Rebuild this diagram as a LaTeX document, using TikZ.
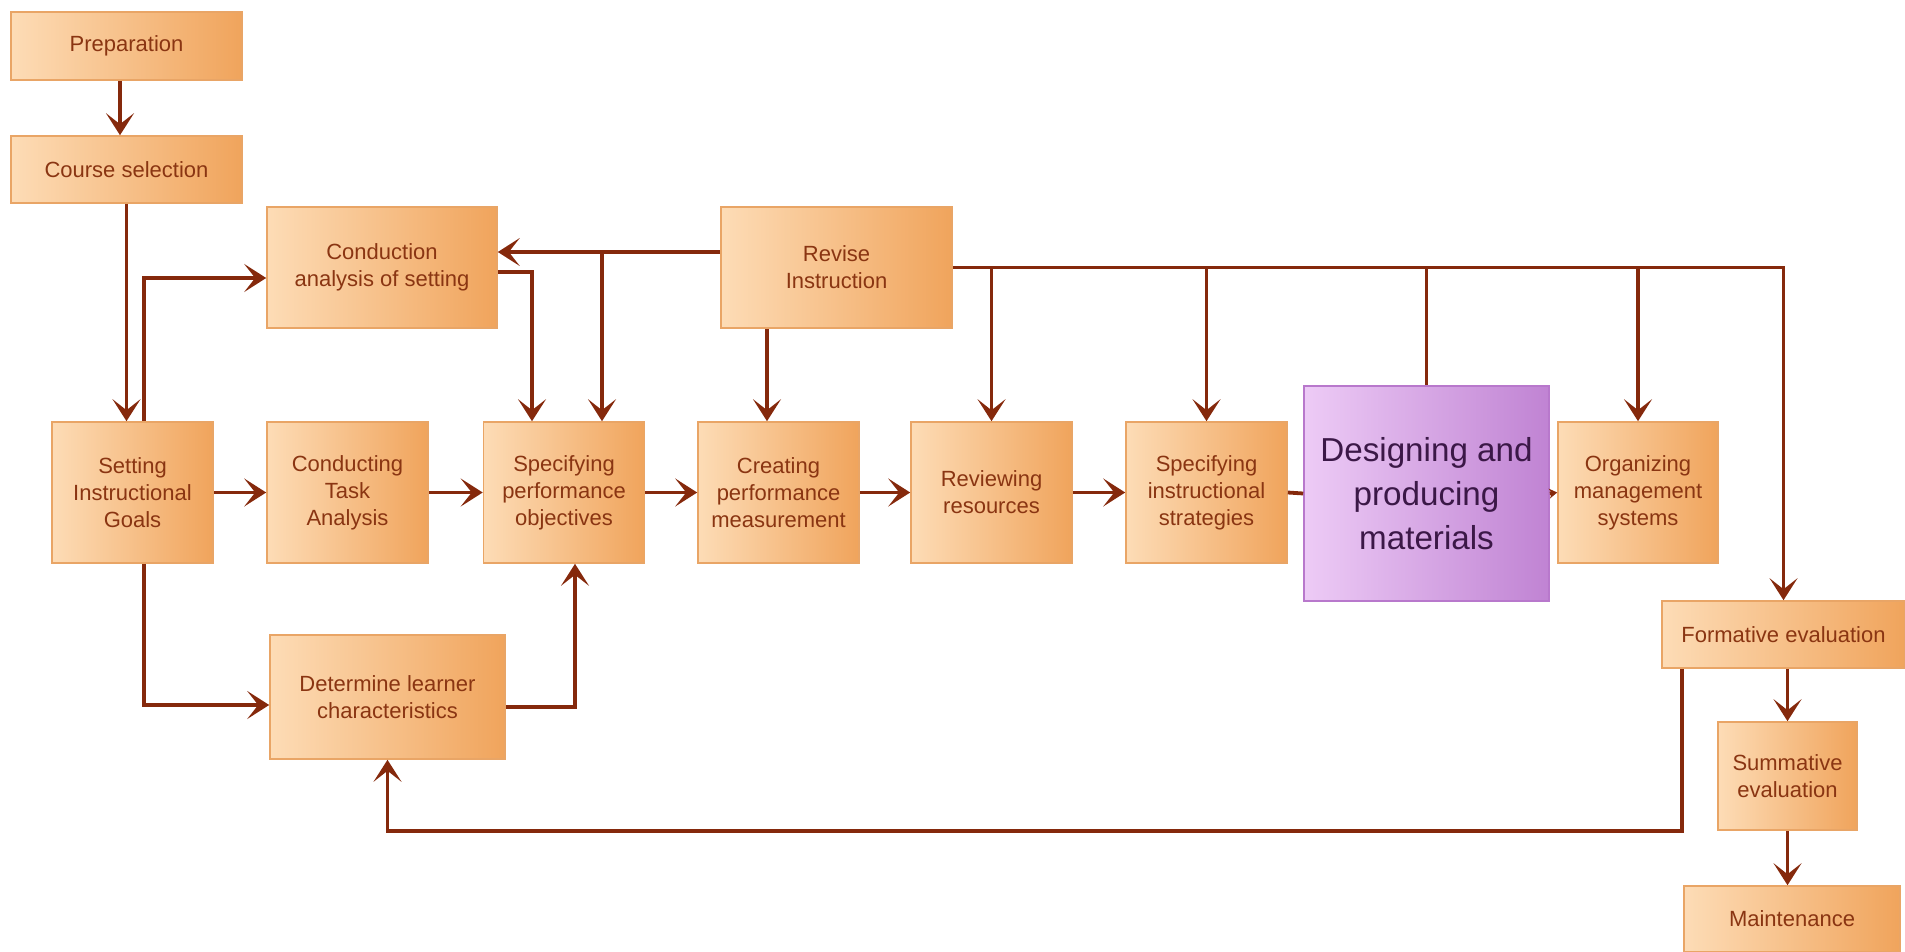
\documentclass[tikz,border=0pt]{standalone}
\usepackage{fontspec}
\setmainfont{Liberation Sans}
\usetikzlibrary{arrows.meta,calc}

\definecolor{wire}{HTML}{85290C}
\definecolor{ink}{HTML}{8A3512}
\definecolor{peachL}{HTML}{FDDCB6}
\definecolor{peachR}{HTML}{F0A45C}
\definecolor{peachEdge}{HTML}{E9A566}
\definecolor{lilacL}{HTML}{EDCBF6}
\definecolor{lilacR}{HTML}{C083D3}
\definecolor{lilacEdge}{HTML}{B878CC}
\definecolor{plum}{HTML}{3B1847}

\tikzset{
  stepbox/.style={draw=peachEdge, line width=0.8pt, left color=peachL, right color=peachR,
    text=ink, align=center, font=\fontsize{11}{13.5}\selectfont, inner sep=2pt},
  rowbox/.style={stepbox, minimum width=80.5pt, minimum height=70.5pt},
  bigbox/.style={draw=lilacEdge, line width=0.8pt, left color=lilacL, right color=lilacR,
    text=plum, align=center, font=\fontsize{16.6}{22}\selectfont},
  wireline/.style={draw=wire, line width=1.9pt},
  wirearrow/.style={wireline, -{Stealth[length=11pt,width=14pt,inset=5.5pt]}},
}

\begin{document}
\begin{tikzpicture}[x=0.5pt,y=-0.5pt]
\useasboundingbox (0,0) rectangle (1905,952);

% planning column
\node[stepbox, minimum width=115.5pt, minimum height=34pt] (prep) at (126.5,46) {Preparation};
\node[stepbox, minimum width=115.5pt, minimum height=33.5pt] (course) at (126.5,169.5) {Course selection};
\node[stepbox, minimum width=115pt, minimum height=60.5pt] (cas) at (382,267.5) {Conduction\\analysis of setting};
\node[stepbox, minimum width=115.5pt, minimum height=60.5pt] (revise) at (836.5,267.5) {Revise\\Instruction};

% main row
\node[rowbox] (goals) at (132.5,492.5) {Setting\\Instructional\\Goals};
\node[rowbox] (task) at (347.5,492.5) {Conducting\\Task\\Analysis};
\node[rowbox] (perf) at (564,492.5) {Specifying\\performance\\objectives};
\node[rowbox] (meas) at (778.5,492.5) {Creating\\performance\\measurement};
\node[rowbox] (res) at (991.5,492.5) {Reviewing\\resources};
\node[rowbox] (strat) at (1206.5,492.5) {Specifying\\instructional\\strategies};
\node[bigbox, minimum width=122.5pt, minimum height=107.5pt] (design) at (1426.5,493.5) {Designing and\\producing\\materials};
\node[rowbox, minimum width=80pt] (org) at (1638,492.5) {Organizing\\management\\systems};

% evaluation column
\node[stepbox, minimum width=121.5pt, minimum height=33.5pt] (form) at (1783.5,634.5) {Formative evaluation};
\node[stepbox, minimum width=69.5pt, minimum height=54pt] (summ) at (1787.5,776) {Summative\\evaluation};
\node[stepbox, minimum width=108pt, minimum height=33pt] (maint) at (1792,919) {Maintenance};

% learners
\node[stepbox, minimum width=117.5pt, minimum height=62pt] (learner) at (387.5,697) {Determine learner\\characteristics};

% helper points on box edges
\coordinate (ps) at ([xshift=-3.25pt]prep.south);
\coordinate (gn) at ([xshift=5.75pt]goals.north);
\coordinate (gs) at ([xshift=5.75pt]goals.south);
\coordinate (rw) at ([yshift=7.75pt]revise.west);
\coordinate (pb) at ([xshift=19pt]perf.north);
\coordinate (pa) at ([xshift=-16pt]perf.north);
\coordinate (ce) at ([yshift=-2.25pt]cas.east);
\coordinate (rs) at ([xshift=-34.75pt]revise.south);
\coordinate (fs) at ([xshift=10.5pt]form.south west);

% left column
\draw[wirearrow] (ps) -- (ps |- course.north);
\draw[wirearrow] (course.south) -- (course.south |- goals.north);
\draw[wirearrow] (gn) |- ([yshift=-5.25pt]cas.west);
\draw[wirearrow] (gs) |- ([yshift=-4pt]learner.west);
\draw[wirearrow] ([yshift=-5pt]learner.east) -| ([xshift=5.5pt]perf.south);
\draw[wirearrow] (ce) -| (pa);

% main row flow
\draw[wirearrow] (goals) -- (task);
\draw[wirearrow] (task) -- (perf);
\draw[wirearrow] (perf) -- (meas);
\draw[wirearrow] (meas) -- (res);
\draw[wirearrow] (res) -- (strat);
\draw[wireline] (strat.east) -- (design.west);
\draw[wireline, -{Stealth[length=4pt,width=5pt]}] (design.east) -- (org.west);

% revision feedback
\draw[wirearrow] (rw) -- (rw -| cas.east);
\draw[wirearrow] (pb |- rw) -- (pb);
\draw[wirearrow] (rs) -- (rs |- meas.north);
\draw[wirearrow] (revise.east) -| (form.north);
\draw[wirearrow] (res.north |- revise.east) -- (res.north);
\draw[wirearrow] (strat.north |- revise.east) -- (strat.north);
\draw[wireline] (design.north |- revise.east) -- (design.north);
\draw[wirearrow] (org.north |- revise.east) -- (org.north);

% evaluation
\draw[wirearrow] (summ.north |- form.south) -- (summ.north);
\draw[wirearrow] (summ.south) -- (summ.south |- maint.north);
\draw[wirearrow] (fs) |- ([yshift=-35.5pt]learner.south) -- (learner.south);
\end{tikzpicture}
\end{document}
